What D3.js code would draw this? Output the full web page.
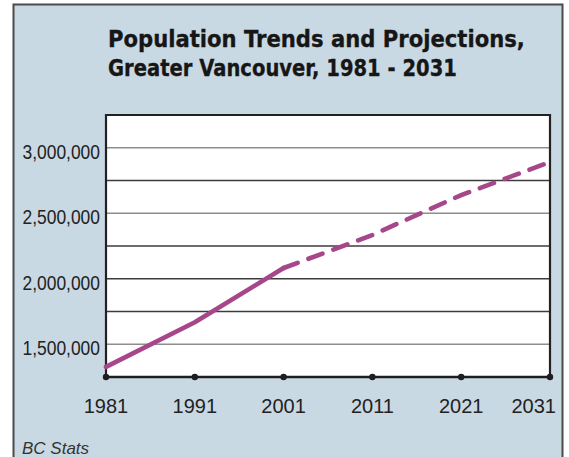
<!DOCTYPE html>
<html>
<head>
<meta charset="utf-8">
<script src="https://cdn.jsdelivr.net/npm/d3@7"></script>
<style>
  html, body { margin: 0; padding: 0; background: #fff; }
  svg { display: block; }
</style>
</head>
<body>
<svg id="chart"></svg>
<script>
const years = [1981, 1991, 2001, 2011, 2021, 2031];
const population = [1327000, 1668000, 2082000, 2334000, 2639000, 2891000];
const lastActual = 2001;
const yTicks = [1500000, 2000000, 2500000, 3000000];
const gridLines = [1500000, 1750000, 2000000, 2250000, 2500000, 2750000, 3000000];
const titleLines = ["Population Trends and Projections,", "Greater Vancouver, 1981 - 2031"];
const source = "BC Stats";

const width = 569, height = 457;
const plot = { left: 106, right: 550, top: 115, bottom: 377 };
const lineColor = "#a6478b";

const svg = d3.select("#chart").attr("width", width).attr("height", height);

// panel
svg.append("rect")
    .attr("x", 13.5).attr("y", 4.5)
    .attr("width", 549).attr("height", 470)
    .attr("fill", "#c9d9e3")
    .attr("stroke", "#4a4a4a")
    .attr("stroke-width", 2);

// title - squeeze the bold face to the Tahoma-like width of the original
const titleWidths = [417, 349];
titleLines.forEach(function (t, i) {
    const txt = svg.append("text")
        .attr("font-family", "DejaVu Sans, Verdana, sans-serif")
        .attr("font-weight", "bold")
        .attr("font-size", 23.5)
        .attr("fill", "#161616")
        .attr("stroke", "#161616")
        .attr("stroke-width", 0.35)
        .text(t);
    const k = titleWidths[i] / txt.node().getComputedTextLength();
    txt.attr("transform", "translate(108," + (46.5 + i * 29.5) + ") scale(" + k + ",1)");
});

const x = d3.scaleLinear().domain([1981, 2031]).range([plot.left, plot.right]);
const y = d3.scaleLinear().domain([1250000, 3250000]).range([plot.bottom, plot.top]);

svg.append("rect")
    .attr("x", plot.left).attr("y", plot.top)
    .attr("width", plot.right - plot.left).attr("height", plot.bottom - plot.top)
    .attr("fill", "#fff");

// grid lines
svg.append("g").selectAll("line")
    .data(gridLines)
    .enter().append("line")
    .attr("x1", plot.left).attr("x2", plot.right)
    .attr("y1", function (d) { return y(d); })
    .attr("y2", function (d) { return y(d); })
    .attr("stroke", function (d) { return (d % 500000 === 0 && d !== 2000000) ? "#8e8e8e" : "#3c3c3c"; })
    .attr("stroke-width", 1.5);

// y labels (narrow face)
svg.append("g").selectAll("text")
    .data(yTicks)
    .enter().append("text")
    .attr("transform", function (d) { return "translate(100," + (y(d) + 11) + ") scale(0.85,1)"; })
    .attr("text-anchor", "end")
    .attr("font-family", "Liberation Sans, Arial, sans-serif")
    .attr("font-size", 20.5)
    .attr("fill", "#222")
    .text(d3.format(","));

// plot frame (left, top, right)
svg.append("path")
    .attr("d", "M" + plot.left + "," + plot.bottom + "V" + plot.top + "H" + plot.right + "V" + plot.bottom)
    .attr("fill", "none")
    .attr("stroke", "#222")
    .attr("stroke-width", 2.2);

// x axis
const xAxis = svg.append("g");
xAxis.append("line")
    .attr("x1", plot.left).attr("x2", plot.right)
    .attr("y1", plot.bottom).attr("y2", plot.bottom)
    .attr("stroke", "#1e1e1e")
    .attr("stroke-width", 2.6);
xAxis.selectAll("circle")
    .data(years)
    .enter().append("circle")
    .attr("cx", function (d) { return x(d); })
    .attr("cy", plot.bottom)
    .attr("r", 3.2)
    .attr("fill", "#1e1e1e");
xAxis.selectAll("text")
    .data(years)
    .enter().append("text")
    .attr("x", function (d, i) { return i === years.length - 1 ? x(d) + 6 : x(d); })
    .attr("y", 413)
    .attr("text-anchor", function (d, i) { return i === years.length - 1 ? "end" : "middle"; })
    .attr("font-family", "Liberation Sans, Arial, sans-serif")
    .attr("font-size", 20)
    .attr("fill", "#222")
    .text(function (d) { return d; });

// population line: solid for actuals, dashed for projections
const pts = years.map(function (d, i) { return { year: d, value: population[i] }; });
const line = d3.line()
    .x(function (d) { return x(d.year); })
    .y(function (d) { return y(d.value); });

svg.append("path")
    .datum(pts.filter(function (d) { return d.year <= lastActual; }))
    .attr("d", line)
    .attr("fill", "none")
    .attr("stroke", lineColor)
    .attr("stroke-width", 4.6)
    .attr("stroke-linecap", "round")
    .attr("stroke-linejoin", "round");

svg.append("path")
    .datum(pts.filter(function (d) { return d.year >= lastActual; }))
    .attr("d", line)
    .attr("fill", "none")
    .attr("stroke", lineColor)
    .attr("stroke-width", 4.6)
    .attr("stroke-linecap", "round")
    .attr("stroke-dasharray", "15,11.5");

// source
svg.append("text")
    .attr("x", 22)
    .attr("y", 454)
    .attr("font-family", "Liberation Sans, Arial, sans-serif")
    .attr("font-style", "italic")
    .attr("font-size", 17)
    .attr("fill", "#333")
    .text(source);
</script>
</body>
</html>
